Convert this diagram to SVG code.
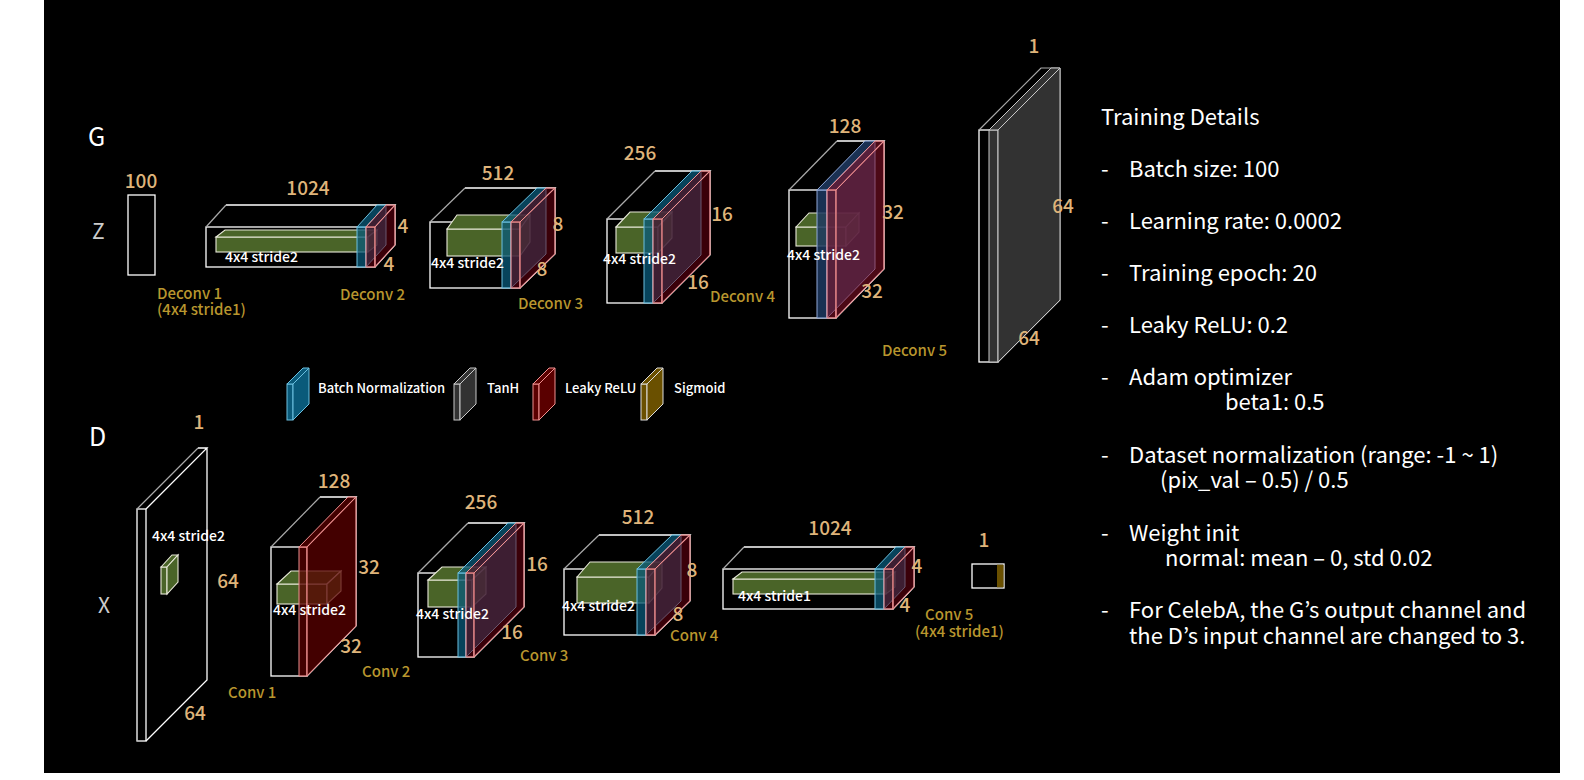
<svg xmlns="http://www.w3.org/2000/svg" width="1584" height="780" viewBox="0 0 1584 780">
<style>
text{font-family:"Noto Sans CJK KR","Noto Sans",sans-serif}
.o{fill:none;stroke:#fff;stroke-width:1.3}
.g{fill:none;stroke:#aaa;stroke-width:1.2}
.gr{fill:#4a6428;stroke:#e8e8d8;stroke-width:1.1}
.bn{fill:#0a5a7a;fill-opacity:.75;stroke:#6cc0e0;stroke-width:1}
.nv{fill:#1e3a62;fill-opacity:.85;stroke:#90a8d8;stroke-width:1}
.lr{fill:#6a0010;fill-opacity:.55;stroke:#f09090;stroke-width:1}
.lr2{fill:#5a0000;fill-opacity:.75;stroke:#f09090;stroke-width:1}
.th{fill:#353535;fill-opacity:.95;stroke:#c8c8c8;stroke-width:1}
.sg{fill:#6a5000;stroke:#ddd;stroke-width:1}
.n{fill:#dfb47a;font-size:19px;font-weight:500;text-anchor:middle}
.c{fill:#b8962e;font-size:15px;font-weight:500}
.w{fill:#fff;font-size:14px;font-weight:500}
.t{fill:#fff;font-size:22px}
.lg{fill:#fff;font-size:13px;font-weight:500}
</style>
<rect x="0" y="0" width="1584" height="780" fill="#fff"/>
<rect x="44" y="0" width="1516" height="773" fill="#000"/>

<text x="88" y="146" fill="#fff" font-size="25">G</text>
<text x="92" y="239" fill="#ccc" font-size="21">Z</text>
<text x="89" y="446" fill="#fff" font-size="25">D</text>
<text x="98" y="613" fill="#ccc" font-size="21">X</text>

<g id="z">
<rect class="o" x="128" y="195" width="27" height="80"/>
<text class="n" x="141" y="188">100</text>
</g>

<g id="deconv1">
<rect class="o" x="206" y="227" width="169" height="40"/>
<path class="o" d="M395,205 L395,245 L375,267 M226,205 L395,205 L375,227"/><path class="g" d="M206,227 L226,205"/>
<rect class="gr" x="216" y="237" width="152" height="15"/><polygon class="gr" points="216,237 225,230 377,230 368,237"/><polygon class="gr" points="368,237 377,230 377,245 368,252"/>
<rect class="bn" x="357" y="227" width="9" height="40"/><polygon class="bn" points="357,227 377,205 386,205 366,227"/><polygon class="bn" points="366,227 386,205 386,245 366,267"/>
<rect class="lr" x="366" y="227" width="9" height="40"/><polygon class="lr" points="366,227 386,205 395,205 375,227"/><polygon class="lr" points="375,227 395,205 395,245 375,267"/>
<text class="n" x="308" y="195">1024</text><text class="n" x="403" y="233">4</text><text class="n" x="389" y="271">4</text>
<text class="w" x="225" y="262">4x4 stride2</text>
<text class="c" x="157" y="299">Deconv 1</text><text class="c" x="157" y="315">(4x4 stride1)</text>
<text class="c" x="340" y="300">Deconv 2</text>
</g>

<g id="deconv2">
<rect class="o" x="430" y="222" width="90" height="66"/>
<path class="o" d="M555,188 L555,254 L520,288 M465,188 L555,188 L520,222"/><path class="g" d="M430,222 L465,188"/>
<rect class="gr" x="447" y="229" width="73" height="27"/><polygon class="gr" points="447,229 457,215 530,215 520,229"/><polygon class="gr" points="520,229 530,215 530,242 520,256"/>
<rect class="bn" x="502" y="222" width="9" height="66"/><polygon class="bn" points="502,222 537,188 546,188 511,222"/><polygon class="bn" points="511,222 546,188 546,254 511,288"/>
<rect class="lr" x="511" y="222" width="9" height="66"/><polygon class="lr" points="511,222 546,188 555,188 520,222"/><polygon class="lr" points="520,222 555,188 555,254 520,288"/>
<text class="n" x="498" y="180">512</text><text class="n" x="558" y="231">8</text><text class="n" x="542" y="276">8</text>
<text class="w" x="431" y="268">4x4 stride2</text>
<text class="c" x="518" y="309">Deconv 3</text>
</g>

<g id="deconv3">
<rect class="o" x="607" y="219" width="55" height="84"/>
<path class="o" d="M710,171 L710,255 L662,303 M655,171 L710,171 L662,219"/><path class="g" d="M607,219 L655,171"/>
<rect class="gr" x="616" y="227" width="42" height="26"/><polygon class="gr" points="616,227 630,212 672,212 658,227"/><polygon class="gr" points="658,227 672,212 672,238 658,253"/>
<rect class="bn" x="644" y="219" width="9" height="84"/><polygon class="bn" points="644,219 692,171 701,171 653,219"/><polygon class="bn" points="653,219 701,171 701,255 653,303"/>
<rect class="lr" x="653" y="219" width="9" height="84"/><polygon class="lr" points="653,219 701,171 710,171 662,219"/><polygon class="lr" points="662,219 710,171 710,255 662,303"/>
<text class="n" x="640" y="160">256</text><text class="n" x="722" y="221">16</text><text class="n" x="698" y="289">16</text>
<text class="w" x="603" y="264">4x4 stride2</text>
<text class="c" x="710" y="302">Deconv 4</text>
</g>

<g id="deconv4">
<rect class="o" x="789" y="190" width="47" height="128"/>
<path class="o" d="M884,141 L884,269 L836,318 M837,141 L884,141 L836,190"/><path class="g" d="M789,190 L837,141"/>
<rect class="gr" x="796" y="227" width="50" height="19"/><polygon class="gr" points="796,227 809,213 859,213 846,227"/><polygon class="gr" points="846,227 859,213 859,232 846,246"/>
<rect class="nv" x="817" y="190" width="10" height="128"/><polygon class="nv" points="817,190 865,141 875,141 827,190"/><polygon class="nv" points="827,190 875,141 875,269 827,318"/>
<rect class="lr" x="827" y="190" width="9" height="128" style="fill:#8a1028"/><polygon class="lr" points="827,190 875,141 884,141 836,190" style="fill:#8a1028"/><polygon class="lr" points="836,190 884,141 884,269 836,318" style="fill:#8a1028"/>
<text class="n" x="845" y="133">128</text><text class="n" x="893" y="219">32</text><text class="n" x="872" y="298">32</text>
<text class="w" x="787" y="260">4x4 stride2</text>
<text class="c" x="882" y="356">Deconv 5</text>
</g>

<g id="deconv5">
<rect class="o" x="979" y="130" width="19" height="232"/>
<path class="g" d="M979,130 L1041,68 L1060,68 M1060,68 L1060,300 L998,362"/>
<rect class="th" x="989" y="130" width="9" height="232"/><polygon class="th" points="989,130 1051,68 1060,68 998,130"/><polygon class="th" points="998,130 1060,68 1060,300 998,362"/>
<text class="n" x="1034" y="53">1</text><text class="n" x="1063" y="213">64</text><text class="n" x="1029" y="345">64</text>
</g>

<g id="legend">
<rect class="bn" style="fill-opacity:1" x="287" y="384" width="6" height="36"/><polygon class="bn" style="fill-opacity:1" points="287,384 303,368 309,368 293,384"/><polygon class="bn" style="fill-opacity:1" points="293,384 309,368 309,404 293,420"/>
<text class="lg" x="318" y="393">Batch Normalization</text>
<rect class="th" x="454" y="384" width="6" height="36"/><polygon class="th" points="454,384 470,368 476,368 460,384"/><polygon class="th" points="460,384 476,368 476,404 460,420"/>
<text class="lg" x="487" y="393">TanH</text>
<rect class="lr2" style="fill-opacity:1" x="533" y="384" width="6" height="36"/><polygon class="lr2" style="fill-opacity:1" points="533,384 549,368 555,368 539,384"/><polygon class="lr2" style="fill-opacity:1" points="539,384 555,368 555,404 539,420"/>
<text class="lg" x="565" y="393">Leaky ReLU</text>
<rect class="sg" x="641" y="384" width="6" height="36"/><polygon class="sg" points="641,384 657,368 663,368 647,384"/><polygon class="sg" points="647,384 663,368 663,404 647,420"/>
<text class="lg" x="674" y="393">Sigmoid</text>
</g>

<g id="x">
<rect class="o" x="137" y="509" width="9" height="232"/>
<path class="o" d="M198,448 L207,448 L146,509 M207,448 L207,680 L146,741"/><path class="g" d="M137,509 L198,448 M137,509 L137,741"/>
<rect class="gr" x="161" y="567" width="6" height="27"/><polygon class="gr" points="161,567 172,555 178,555 167,567"/><polygon class="gr" points="167,567 178,555 178,582 167,594"/>
<text class="n" x="199" y="429">1</text><text class="n" x="228" y="588">64</text><text class="n" x="195" y="720">64</text>
<text class="w" x="152" y="541">4x4 stride2</text>
<text class="c" x="228" y="698">Conv 1</text>
</g>

<g id="conv2">
<rect class="o" x="271" y="547" width="36" height="129"/>
<path class="o" d="M356,497 L356,626 L307,676 M320,497 L356,497 L307,547"/><path class="g" d="M271,547 L320,497"/>
<rect class="gr" x="277" y="584" width="50" height="20"/><polygon class="gr" points="277,584 291,571 341,571 327,584"/><polygon class="gr" points="327,584 341,571 341,591 327,604"/>
<rect class="lr2" x="299" y="547" width="8" height="129"/><polygon class="lr2" points="299,547 348,497 356,497 307,547"/><polygon class="lr2" points="307,547 356,497 356,626 307,676"/>
<text class="n" x="334" y="488">128</text><text class="n" x="369" y="574">32</text><text class="n" x="351" y="653">32</text>
<text class="w" x="273" y="615">4x4 stride2</text>
<text class="c" x="362" y="677">Conv 2</text>
</g>

<g id="conv3">
<rect class="o" x="418" y="573" width="56" height="84"/>
<path class="o" d="M524,523 L524,607 L474,657 M468,523 L524,523 L474,573"/><path class="g" d="M418,573 L468,523"/>
<rect class="gr" x="428" y="580" width="44" height="27"/><polygon class="gr" points="428,580 442,567 486,567 472,580"/><polygon class="gr" points="472,580 486,567 486,594 472,607"/>
<rect class="bn" x="458" y="573" width="8" height="84"/><polygon class="bn" points="458,573 508,523 516,523 466,573"/><polygon class="bn" points="466,573 516,523 516,607 466,657"/>
<rect class="lr" x="466" y="573" width="8" height="84"/><polygon class="lr" points="466,573 516,523 524,523 474,573"/><polygon class="lr" points="474,573 524,523 524,607 474,657"/>
<text class="n" x="481" y="509">256</text><text class="n" x="537" y="571">16</text><text class="n" x="512" y="639">16</text>
<text class="w" x="416" y="619">4x4 stride2</text>
<text class="c" x="520" y="661">Conv 3</text>
</g>

<g id="conv4">
<rect class="o" x="564" y="569" width="91" height="66"/>
<path class="o" d="M690,535 L690,601 L655,635 M599,535 L690,535 L655,569"/><path class="g" d="M564,569 L599,535"/>
<rect class="gr" x="577" y="577" width="72" height="26"/><polygon class="gr" points="577,577 590,562 662,562 649,577"/><polygon class="gr" points="649,577 662,562 662,588 649,603"/>
<rect class="bn" x="637" y="569" width="9" height="66"/><polygon class="bn" points="637,569 672,535 681,535 646,569"/><polygon class="bn" points="646,569 681,535 681,601 646,635"/>
<rect class="lr" x="646" y="569" width="9" height="66"/><polygon class="lr" points="646,569 681,535 690,535 655,569"/><polygon class="lr" points="655,569 690,535 690,601 655,635"/>
<text class="n" x="638" y="524">512</text><text class="n" x="692" y="577">8</text><text class="n" x="678" y="621">8</text>
<text class="w" x="562" y="611">4x4 stride2</text>
<text class="c" x="670" y="641">Conv 4</text>
</g>

<g id="conv5">
<rect class="o" x="723" y="569" width="170" height="40"/>
<path class="o" d="M914,547 L914,587 L893,609 M744,547 L914,547 L893,569"/><path class="g" d="M723,569 L744,547"/>
<rect class="gr" x="733" y="579" width="153" height="15"/><polygon class="gr" points="733,579 742,572 895,572 886,579"/><polygon class="gr" points="886,579 895,572 895,587 886,594"/>
<rect class="bn" x="875" y="569" width="9" height="40"/><polygon class="bn" points="875,569 896,547 905,547 884,569"/><polygon class="bn" points="884,569 905,547 905,587 884,609"/>
<rect class="lr" x="884" y="569" width="9" height="40"/><polygon class="lr" points="884,569 905,547 914,547 893,569"/><polygon class="lr" points="893,569 914,547 914,587 893,609"/>
<text class="n" x="830" y="535">1024</text><text class="n" x="917" y="573">4</text><text class="n" x="905" y="612">4</text>
<text class="w" x="738" y="601">4x4 stride1</text>
<text class="c" x="925" y="620">Conv 5</text><text class="c" x="915" y="637">(4x4 stride1)</text>
</g>

<g id="out">
<rect class="o" x="972" y="564" width="32" height="24"/>
<rect class="sg" x="997" y="564.7" width="6.5" height="22.6" style="stroke:none"/>
<text class="n" x="984" y="547">1</text>
</g>

<g id="details">
<text class="t" x="1101" y="125">Training Details</text>
<text class="t" x="1101" y="177">-</text><text class="t" x="1129" y="177">Batch size: 100</text>
<text class="t" x="1101" y="229">-</text><text class="t" x="1129" y="229">Learning rate: 0.0002</text>
<text class="t" x="1101" y="281">-</text><text class="t" x="1129" y="281">Training epoch: 20</text>
<text class="t" x="1101" y="333">-</text><text class="t" x="1129" y="333">Leaky ReLU: 0.2</text>
<text class="t" x="1101" y="385">-</text><text class="t" x="1129" y="385">Adam optimizer</text>
<text class="t" x="1225" y="410">beta1: 0.5</text>
<text class="t" x="1101" y="463">-</text><text class="t" x="1129" y="463">Dataset normalization (range: -1 ~ 1)</text>
<text class="t" x="1160" y="488">(pix_val – 0.5) / 0.5</text>
<text class="t" x="1101" y="541">-</text><text class="t" x="1129" y="541">Weight init</text>
<text class="t" x="1165" y="566">normal: mean – 0, std 0.02</text>
<text class="t" x="1101" y="618">-</text><text class="t" x="1129" y="618">For CelebA, the G’s output channel and</text>
<text class="t" x="1129" y="644">the D’s input channel are changed to 3.</text>
</g>
</svg>
